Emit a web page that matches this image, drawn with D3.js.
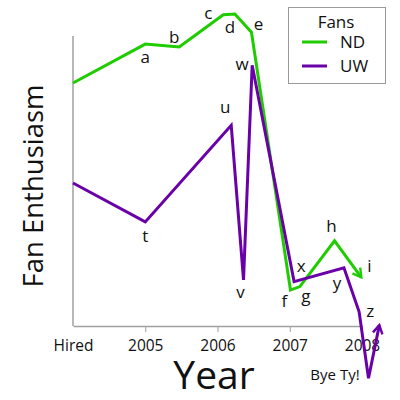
<!DOCTYPE html>
<html>
<head>
<meta charset="utf-8">
<script src="https://cdn.jsdelivr.net/npm/d3@7"></script>
<style>
  body { margin: 0; background: #fff; }
  text { font-family: "Open Sans", sans-serif; fill: #111; }
</style>
</head>
<body>
<div class="chart"></div>
<script>
// data (x in years, Hired = 2004; y in arbitrary "enthusiasm")
const ndYears = [2004, 2005, 2005.47, 2006.08, 2006.24, 2006.47, 2007.01, 2007.14, 2007.62, 2007.99]
const ndValues = [8.38, 9.72, 9.62, 10.73, 10.76, 10.13, 1.24, 1.36, 2.94, 1.68]
const ndLabels = ['', 'a', 'b', 'c', 'd', 'e', 'f', 'g', 'h', 'i']

const uwYears = [2004, 2005, 2006.19, 2006.36, 2006.48, 2007.06, 2007.75, 2007.96, 2008.09, 2008.24]
const uwValues = [4.93, 3.59, 6.92, 1.59, 8.99, 1.53, 2.01, 0.49, -1.80, 0.03]
const uwLabels = ['', 't', 'u', 'v', 'w', 'x', 'y', 'z', '', '']

const tickYears = [2004, 2005, 2006, 2007, 2008]
const tickLabels = ['Hired', '2005', '2006', '2007', '2008']

const seriesNames = ['ND', 'UW']
const colors = ['#1fcc00', '#6a00a8']

// label offsets from their point (dx, dy to baseline)
const labelOffsets = {
  a: [0, 19], b: [-5, -4], c: [-15, 4], d: [-5, 19], e: [7, -2],
  f: [-6, 17], g: [6, 15], h: [-3, -9], i: [8, -5],
  t: [0, 20], u: [-6, -12], v: [-3, 18], w: [-10, 5], x: [7, -10],
  y: [-7, 21], z: [11, 5]
}

const width = 400, height = 400

const svg = d3.select(".chart")
  .append("svg")
    .attr("width", width)
    .attr("height", height)

const x = d3.scaleLinear().domain([2004, 2008]).range([73, 362])
const y = d3.scaleLinear().domain([0, 10]).range([326, 36])

const defs = svg.append("defs")
colors.forEach((c, i) => {
  defs.append("marker")
      .attr("id", "arrow" + i)
      .attr("viewBox", "0 0 10 10")
      .attr("refX", 8)
      .attr("refY", 5)
      .attr("markerWidth", 4)
      .attr("markerHeight", 4)
      .attr("orient", "auto")
      .attr("markerUnits", "strokeWidth")
    .append("path")
      .attr("d", "M1,1 L8,5 L1,9")
      .attr("fill", "none")
      .attr("stroke", c)
      .attr("stroke-width", 2)
})

// axes
svg.append("line")
    .attr("x1", x(2004)).attr("x2", x(2004))
    .attr("y1", y(10)).attr("y2", y(0))
    .attr("stroke", "#a0a0a0")
    .attr("stroke-width", 1.5)

const xAxis = svg.append("g")
    .attr("transform", `translate(0,${y(0)})`)
    .call(d3.axisBottom(x)
      .tickValues(tickYears)
      .tickFormat((d, i) => tickLabels[i])
      .tickSize(6)
      .tickSizeOuter(0)
      .tickPadding(8))
xAxis.select(".domain").attr("stroke", "#a0a0a0").attr("stroke-width", 1.5)
xAxis.selectAll(".tick line").attr("stroke", "#a0a0a0")
  .attr("opacity", (d, i) => i === 0 ? 0 : 1)
xAxis.selectAll(".tick text")
    .attr("font-size", 15.5)
    .attr("font-family", "Open Sans, sans-serif")
    .attr("fill", "#111")

// lines
const series = [
  { years: ndYears, values: ndValues, labels: ndLabels },
  { years: uwYears, values: uwValues, labels: uwLabels }
]

const line = d3.line().x(d => x(d[0])).y(d => y(d[1]))

series.forEach((s, i) => {
  const pts = s.years.map((yr, j) => [yr, s.values[j]])
  svg.append("path")
      .datum(pts)
      .attr("d", line)
      .attr("fill", "none")
      .attr("stroke", colors[i])
      .attr("stroke-width", 3)
      .attr("stroke-linejoin", "miter")
      .attr("marker-end", `url(#arrow${i})`)

  svg.selectAll(null)
    .data(pts.map((p, j) => ({ p, lab: s.labels[j] })).filter(d => d.lab))
    .join("text")
      .attr("x", d => x(d.p[0]) + labelOffsets[d.lab][0])
      .attr("y", d => y(d.p[1]) + labelOffsets[d.lab][1])
      .attr("text-anchor", "middle")
      .attr("font-size", 17)
      .text(d => d.lab)
})

// annotation
svg.append("text")
    .attr("x", 335)
    .attr("y", 380)
    .attr("text-anchor", "middle")
    .attr("font-size", 15)
    .text("Bye Ty!")

// axis titles
svg.append("text")
    .attr("transform", "translate(43,186) rotate(-90)")
    .attr("text-anchor", "middle")
    .attr("font-size", 27.5)
    .text("Fan Enthusiasm")

svg.append("text")
    .attr("x", 214)
    .attr("y", 389)
    .attr("text-anchor", "middle")
    .attr("font-size", 39)
    .text("Year")

// legend
const legend = svg.append("g")
legend.append("rect")
    .attr("x", 288.5).attr("y", 7.5)
    .attr("width", 97).attr("height", 76)
    .attr("fill", "#fff")
    .attr("stroke", "#999")
legend.append("text")
    .attr("x", 336).attr("y", 28)
    .attr("text-anchor", "middle")
    .attr("font-size", 17)
    .text("Fans")
seriesNames.forEach((n, i) => {
  legend.append("line")
      .attr("x1", 302).attr("x2", 327)
      .attr("y1", 42 + i * 24).attr("y2", 42 + i * 24)
      .attr("stroke", colors[i])
      .attr("stroke-width", 3)
  legend.append("text")
      .attr("x", 340).attr("y", 48 + i * 24)
      .attr("font-size", 17)
      .text(n)
})
</script>
</body>
</html>
